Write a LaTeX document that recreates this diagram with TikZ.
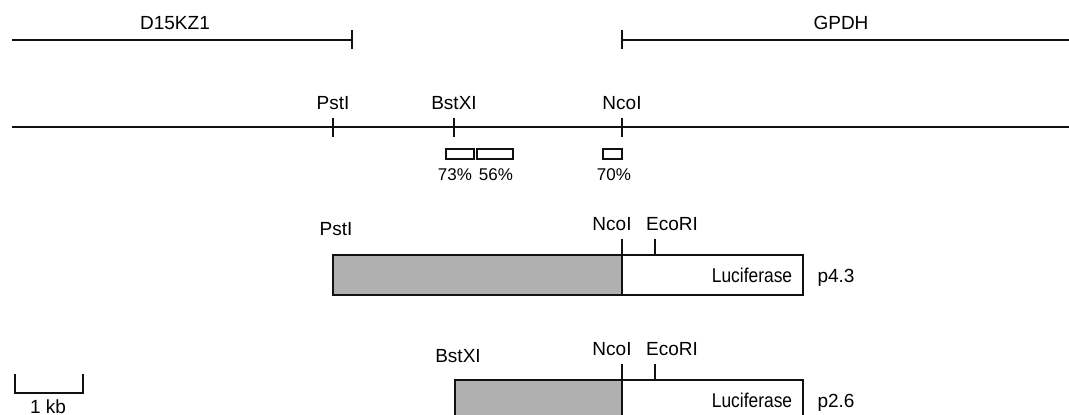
\documentclass[tikz,border=0pt]{standalone}
\usepackage{fontspec}
\setmainfont{Liberation Sans}
\usetikzlibrary{positioning}
\definecolor{mInk}{HTML}{111111}
\definecolor{mShade}{HTML}{B0B0B0}

\begin{document}
\begin{tikzpicture}[x=0.5pt, y=-0.5pt,
  map/.style={line width=1pt, mInk},
  lbl/.style={font=\fontsize{9.5}{11}\selectfont, inner sep=0pt, anchor=base},
  pct/.style={font=\fontsize{8.5}{10}\selectfont, inner sep=0pt, anchor=base},
  lucname/.style={font=\fontsize{10}{12}\selectfont, xscale=0.87, inner sep=0pt, anchor=base},
  homol/.style={draw=mInk, line width=1pt, fill=white},
  frag/.style={draw=mInk, line width=1.3pt, fill=mShade},
  luc/.style={draw=mInk, line width=1.3pt, fill=white}]
  \clip (0,0) rectangle (1069,414);
  % flanking genes
  \node[lbl] (d15) at (175,29) {D15KZ1};
  \node[lbl] (gpdh) at (841,29) {GPDH};
  \coordinate (dL) at (12,40);
  \coordinate (dR) at (352,40);
  \coordinate (gL) at (622,40);
  \coordinate (gR) at (1069,40);
  \draw[map] (dL) -- (dR);
  \draw[map] (352,30) -- (352,49);
  \draw[map] (gL) -- (gR);
  \draw[map] (622,30) -- (622,49);
  % genomic map and sites
  \draw[map] (12,127) -- (1069,127);
  \foreach \x/\site in {333/PstI, 454/BstXI, 622/NcoI} {
    \draw[map] (\x,118) -- (\x,137);
    \node[lbl] at (\x,109) {\site};
  }
  % conserved blocks
  \draw[homol] (446,149) rectangle (474,159);
  \draw[homol] (477,149) rectangle (513,159);
  \draw[homol] (603,149) rectangle (622,159);
  \node[pct] (h73) at (455,180) {73\%};
  \node[pct] (h56) at (496,180) {56\%};
  \node[pct] (h70) at (614,180) {70\%};
  % constructs
  \foreach \y/\left/\lname/\lx/\lb/\pname in {255/333/PstI/336/235/p4.3, 380/455/BstXI/458/362/p2.6} {
    \draw[frag] (\left,\y) rectangle (622,\y+40);
    \draw[luc] (622,\y) rectangle (803,\y+40);
    \draw[map] (622,\y-16) -- (622,\y);
    \draw[map] (655,\y-16) -- (655,\y);
    \node[lbl] at (\lx,\lb) {\lname};
    \node[lbl] at (612,\y-25) {NcoI};
    \node[lbl] at (672,\y-25) {EcoRI};
    \node[lucname] at (752,\y+27) {Luciferase};
    \node[lbl] at (836,\y+27) {\pname};
  }
  % scale
  \draw[map] (15,374) -- (15,393) -- (83,393) -- (83,374);
  \node[lbl] (kb) at (48,413) {1 kb};
\end{tikzpicture}
\end{document}
